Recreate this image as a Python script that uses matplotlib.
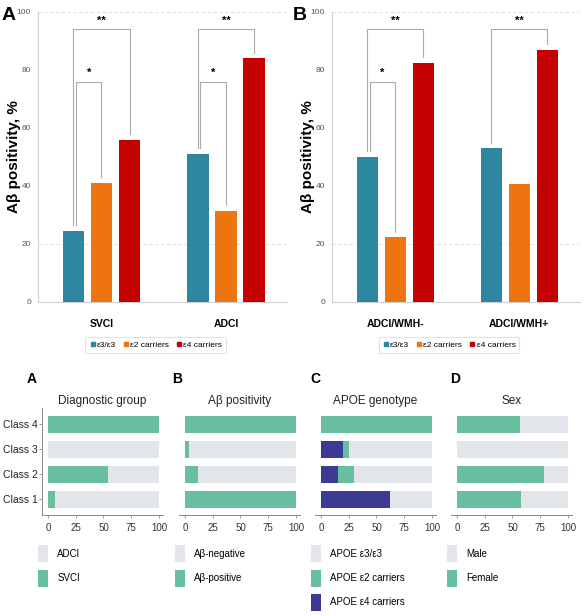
import matplotlib
matplotlib.use("Agg")
import matplotlib.pyplot as plt
from matplotlib.lines import Line2D
from matplotlib.patches import Patch
import numpy as np

plt.rcParams['font.family'] = ['Liberation Sans', 'DejaVu Sans']

# ---------------- data ----------------
genotypes = ['ε3/ε3', 'ε2 carriers', 'ε4 carriers']
geno_colors = ['#2E87A1', '#EE7410', '#C40000']

groups_a = ['SVCI', 'ADCI']
vals_a = {'ε3/ε3': [24.5, 51.0], 'ε2 carriers': [41.0, 31.5], 'ε4 carriers': [56.0, 84.0]}

groups_b = ['ADCI/WMH-', 'ADCI/WMH+']
vals_b = {'ε3/ε3': [50.0, 53.0], 'ε2 carriers': [22.3, 40.8], 'ε4 carriers': [82.5, 87.0]}

# significance: (group index, bar i, bar j, label, bracket height)
sig_a = [(0, 0, 2, '**', 94), (0, 0, 1, '*', 76), (1, 0, 2, '**', 94), (1, 0, 1, '*', 76)]
sig_b = [(0, 0, 2, '**', 94), (0, 0, 1, '*', 76), (1, 0, 2, '**', 94)]

classes = ['Class 1', 'Class 2', 'Class 3', 'Class 4']
diag_svci = [6, 54, 0, 100]
abeta_pos = [100, 12, 4, 100]
apoe_e4 = [62, 15, 20, 0]
apoe_e2 = [0, 15, 5, 100]
sex_female = [58, 78, 0, 57]

light = '#E2E5EA'
green = '#68BFA0'
navy = '#3C3A92'

# ---------------- figure ----------------
fig = plt.figure(figsize=(5.86, 6.16), dpi=100)
W, H = 586, 616

def fax(l, t, r, b):
    return fig.add_axes([l / W, 1 - b / H, (r - l) / W, (b - t) / H])

bar_w = 0.17
offs = [-0.225, 0.0, 0.225]

def top_panel(ax, groups, vals, sigs, letter_xy, letter):
    x = np.arange(len(groups))
    for k, g in enumerate(genotypes):
        ax.bar(x + offs[k], vals[g], width=bar_w, color=geno_colors[k], zorder=3)
    ax.set_xlim(-0.51, 1.49)
    ax.set_ylim(0, 100)
    ax.set_yticks([0, 20, 40, 60, 80, 100])
    ax.tick_params(axis='y', labelsize=6, colors='#555555', length=0, pad=5)
    ax.set_xticks(x)
    ax.set_xticklabels(groups, fontsize=7.5, fontweight='bold')
    ax.tick_params(axis='x', length=0, pad=12)
    for s in ['top', 'right']:
        ax.spines[s].set_visible(False)
    ax.spines['left'].set_color('#D0D0D0')
    ax.spines['bottom'].set_color('#D0D0D0')
    for yv in [20, 100]:
        ax.axhline(yv, color='#DADADA', lw=0.6, ls=(0, (4, 3)), zorder=1)
    ax.set_ylabel('Aβ positivity, %', fontsize=11, fontweight='bold')
    ax.yaxis.set_label_coords(-0.068, 0.5)
    for gi, i, j, lab, h in sigs:
        vi = vals[genotypes[i]][gi]
        vj = vals[genotypes[j]][gi]
        xi = gi + offs[i] + (0.02 if lab == '*' else 0)
        xj = gi + offs[j]
        ax.plot([xi, xi, xj, xj], [vi + 2, h, h, vj + 2], color='#AAAAAA', lw=0.8, zorder=2)
        ax.text((xi + xj) / 2, h + 1.2, lab, ha='center', va='bottom', fontsize=8, fontweight='bold')
    handles = [Line2D([], [], marker='s', ls='', color=c, markersize=3.2) for c in geno_colors]
    leg = ax.legend(handles, genotypes, loc='center', bbox_to_anchor=(0.472, -0.148), ncol=3,
                    fontsize=6, frameon=True, handletextpad=0.1, columnspacing=0.8,
                    borderpad=0.45, fancybox=False, handlelength=0.8)
    leg.get_frame().set_edgecolor('#DDDDDD')
    leg.get_frame().set_linewidth(0.8)
    fig.text(letter_xy[0] / W, 1 - letter_xy[1] / H, letter, fontsize=14, fontweight='bold',
             ha='center', va='center')

axA = fax(38, 12, 287, 302)
top_panel(axA, groups_a, vals_a, sig_a, (9, 16), 'A')
axB = fax(332, 12, 580, 302)
top_panel(axB, groups_b, vals_b, sig_b, (300, 15), 'B')

# ---------------- bottom panels ----------------
lefts = [42, 179, 315, 451]
titles = ['Diagnostic group', 'Aβ positivity', 'APOE genotype', 'Sex']
letters_x = [32, 177, 315, 455]
y = np.arange(len(classes))

def stacked(ax, parts):
    left = np.zeros(len(classes))
    for vals, col in parts:
        v = np.array(vals, dtype=float)
        ax.barh(y, v, left=left, height=0.68, color=col, zorder=3)
        left = left + v

panels = []
for k in range(4):
    ax = fax(lefts[k], 408, lefts[k] + 121, 515)
    panels.append(ax)

rest = lambda *arrs: list(100 - np.sum(np.array(arrs, dtype=float), axis=0))

stacked(panels[0], [(diag_svci, green), (rest(diag_svci), light)])
stacked(panels[1], [(abeta_pos, green), (rest(abeta_pos), light)])
stacked(panels[2], [(apoe_e4, navy), (apoe_e2, green), (rest(apoe_e4, apoe_e2), light)])
stacked(panels[3], [(sex_female, green), (rest(sex_female), light)])

legends = [
    (['ADCI', 'SVCI'], [light, green]),
    (['Aβ-negative', 'Aβ-positive'], [light, green]),
    (['APOE ε3/ε3', 'APOE ε2 carriers', 'APOE ε4 carriers'], [light, green, navy]),
    (['Male', 'Female'], [light, green]),
]

for k, ax in enumerate(panels):
    ax.set_xlim(-5.4, 103.6)
    ax.set_ylim(-0.64, 3.64)
    ax.set_xticks([0, 25, 50, 75, 100])
    ax.tick_params(axis='x', labelsize=7, colors='#333333', length=2.5, width=0.6,
                   pad=3, color='#888888')
    for s in ['top', 'right']:
        ax.spines[s].set_visible(False)
    ax.spines['bottom'].set_color('#888888')
    ax.spines['bottom'].set_linewidth(0.7)
    if k == 0:
        ax.set_yticks(y)
        ax.set_yticklabels(classes, fontsize=7.5, color='#222222')
        ax.tick_params(axis='y', length=2, width=0.6, color='#888888', pad=1)
        ax.spines['left'].set_color('#888888')
        ax.spines['left'].set_linewidth(0.7)
    else:
        ax.set_yticks([])
        ax.spines['left'].set_visible(False)
    ax.set_title(titles[k], fontsize=8.5, pad=3, color='#222222')
    labs, cols = legends[k]
    hs = [Patch(facecolor=c, edgecolor='none') for c in cols]
    ax.legend(hs, labs, loc='upper left', bbox_to_anchor=(-4 / 121, -0.285), frameon=False,
              fontsize=7, handlelength=1.0, handleheight=2.3, labelspacing=0.75,
              handletextpad=1.0, borderpad=0, borderaxespad=0)
    fig.text(letters_x[k] / W, 1 - 379 / H, 'ABCD'[k], fontsize=10, fontweight='bold',
             ha='center', va='center')

fig.savefig('out.png', dpi=100)
